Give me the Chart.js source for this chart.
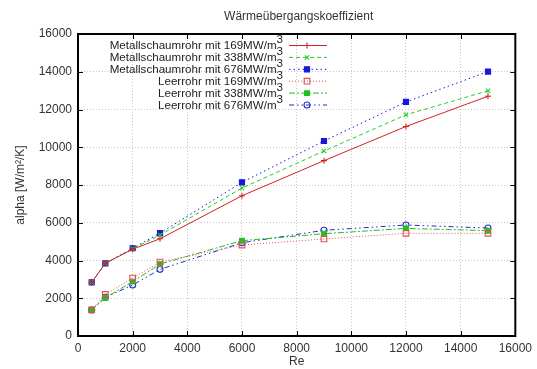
<!DOCTYPE html>
<html>
<head>
<meta charset="utf-8">
<script src="https://cdn.jsdelivr.net/npm/chart.js@4"></script>
<style>
  body { margin: 0; background: #fff; }
  #wrap { width: 537px; height: 369px; }
</style>
</head>
<body>
<div id="wrap"><canvas id="chart" width="537" height="369"></canvas></div>
<script>
const re = [500, 1000, 2000, 3000, 6000, 9000, 12000, 15000];

const metall169 = [2840, 3850, 4600, 5150, 7430, 9290, 11100, 12700];
const metall338 = [2840, 3850, 4620, 5350, 7840, 9800, 11720, 12990];
const metall676 = [2840, 3850, 4650, 5450, 8140, 10330, 12400, 14010];
const leer169 = [1380, 2200, 3070, 3920, 4820, 5140, 5440, 5440];
const leer338 = [1380, 2030, 2880, 3810, 5050, 5420, 5700, 5580];
const leer676 = [1380, 2050, 2700, 3530, 4940, 5600, 5880, 5720];

const labels = [
  "Metallschaumrohr mit 169MW/m",
  "Metallschaumrohr mit 338MW/m",
  "Metallschaumrohr mit 676MW/m",
  "Leerrohr mit 169MW/m",
  "Leerrohr mit 338MW/m",
  "Leerrohr mit 676MW/m"
];

const xTicks = [0, 2000, 4000, 6000, 8000, 10000, 12000, 14000, 16000];
const yTicks = [0, 2000, 4000, 6000, 8000, 10000, 12000, 14000, 16000];

const FONT = "'Liberation Sans', Arial, sans-serif";

function toPoints(ys) {
  return ys.map((y, i) => ({ x: re[i], y: y }));
}

const styles = [
  { color: "#d42020", dash: [], point: "cross", fill: false, r: 3 },
  { color: "#20d020", dash: [4, 3], point: "crossRot", fill: false, r: 3 },
  { color: "#1818d8", dash: [1.5, 3], point: "rect", fill: true, r: 3.6 },
  { color: "#e05050", dash: [1, 2], point: "rect", fill: false, r: 4 },
  { color: "#20c020", dash: [6, 2, 2, 2], point: "rect", fill: true, r: 3.4 },
  { color: "#2828c8", dash: [5, 3, 1.5, 3, 1.5, 3], point: "circle", fill: false, r: 3 }
];

const series = [metall169, metall338, metall676, leer169, leer338, leer676];

const datasets = series.map((ys, i) => {
  const s = styles[i];
  return {
    label: labels[i],
    data: toPoints(ys),
    borderColor: s.color,
    backgroundColor: s.fill ? s.color : "rgba(0,0,0,0)",
    borderWidth: 1,
    borderDash: s.dash,
    pointStyle: s.point,
    pointRadius: s.r,
    pointBorderColor: s.color,
    pointBackgroundColor: s.fill ? s.color : "rgba(0,0,0,0)",
    pointBorderWidth: 1.1,
    tension: 0
  };
});

// gnuplot-ish frame, inward ticks, title and legend
const gnuplotLook = {
  id: "gnuplotLook",
  afterDraw(chart) {
    const ctx = chart.ctx;
    const a = chart.chartArea;
    const xs = chart.scales.x;
    const ys = chart.scales.y;

    ctx.save();
    ctx.strokeStyle = "#000";
    ctx.lineWidth = 1;
    ctx.beginPath();
    xTicks.forEach((t) => {
      const px = Math.round(xs.getPixelForValue(t)) + 0.5;
      ctx.moveTo(px, a.bottom); ctx.lineTo(px, a.bottom - 5);
      ctx.moveTo(px, a.top); ctx.lineTo(px, a.top + 5);
    });
    yTicks.forEach((t) => {
      const py = Math.round(ys.getPixelForValue(t)) + 0.5;
      ctx.moveTo(a.left, py); ctx.lineTo(a.left + 5, py);
      ctx.moveTo(a.right, py); ctx.lineTo(a.right - 5, py);
    });
    ctx.stroke();
    ctx.lineWidth = 2;
    ctx.strokeRect(a.left, a.top, a.right - a.left, a.bottom - a.top);

    // title
    ctx.fillStyle = "#333";
    ctx.font = "12px " + FONT;
    ctx.textAlign = "center";
    ctx.textBaseline = "middle";
    ctx.fillText("Wärmeübergangskoeffizient", (a.left + a.right) / 2 + 2, 17);

    // legend
    const textRight = 283;
    const sampleL = 289, sampleR = 327;
    chart.data.datasets.forEach((ds, i) => {
      const y = 45 + i * 11.9;
      ctx.font = "11.6px " + FONT;
      ctx.textAlign = "right";
      ctx.textBaseline = "middle";
      ctx.fillStyle = "#222";
      ctx.fillText("3", textRight, y - 5);
      const w3 = ctx.measureText("3").width;
      ctx.fillText(ds.label, textRight - w3, y + 1);

      ctx.strokeStyle = ds.borderColor;
      ctx.lineWidth = 1;
      ctx.setLineDash(ds.borderDash);
      ctx.beginPath();
      ctx.moveTo(sampleL, y + 0.5);
      ctx.lineTo(sampleR, y + 0.5);
      ctx.stroke();
      ctx.setLineDash([]);
      ctx.fillStyle = ds.pointBackgroundColor;
      ctx.lineWidth = ds.pointBorderWidth;
      Chart.helpers.drawPoint(ctx, {
        pointStyle: ds.pointStyle,
        radius: ds.pointRadius,
        rotation: 0,
        borderWidth: ds.pointBorderWidth
      }, (sampleL + sampleR) / 2 - 1, y + 0.5);
    });
    ctx.restore();
  }
};

const tickFont = { family: FONT, size: 12 };

const config = {
  type: "line",
  data: { datasets },
  options: {
    responsive: false,
    animation: false,
    layout: { padding: { top: 34, right: 19, left: 0, bottom: 0 } },
    plugins: {
      legend: { display: false },
      title: { display: false },
      tooltip: { enabled: false }
    },
    scales: {
      x: {
        type: "linear",
        min: 0,
        max: 16000,
        afterBuildTicks: (scale) => { scale.ticks = xTicks.map((v) => ({ value: v })); },
        afterFit: (scale) => { scale.height = 33; },
        grid: { color: "#c8c8c8", drawTicks: false },
        border: { display: false, dash: [1, 2] },
        ticks: { color: "#333", font: tickFont, padding: 5, maxRotation: 0, callback: (v) => String(v) },
        title: { display: true, text: "Re", color: "#333", font: tickFont, padding: { top: 2, bottom: 0 } }
      },
      y: {
        type: "linear",
        min: 0,
        max: 16000,
        afterBuildTicks: (scale) => { scale.ticks = yTicks.map((v) => ({ value: v })); },
        afterFit: (scale) => { scale.width = 78; },
        grid: { color: "#c8c8c8", drawTicks: false },
        border: { display: false, dash: [1, 2] },
        ticks: { color: "#333", font: tickFont, padding: 6, callback: (v) => String(v) },
        title: { display: true, text: "alpha [W/m²/K]", color: "#333", font: tickFont, padding: { top: 13, bottom: 0 } }
      }
    }
  },
  plugins: [gnuplotLook]
};

const canvas = document.getElementById("chart");
const myChart = new Chart(canvas, config);
</script>
</body>
</html>
